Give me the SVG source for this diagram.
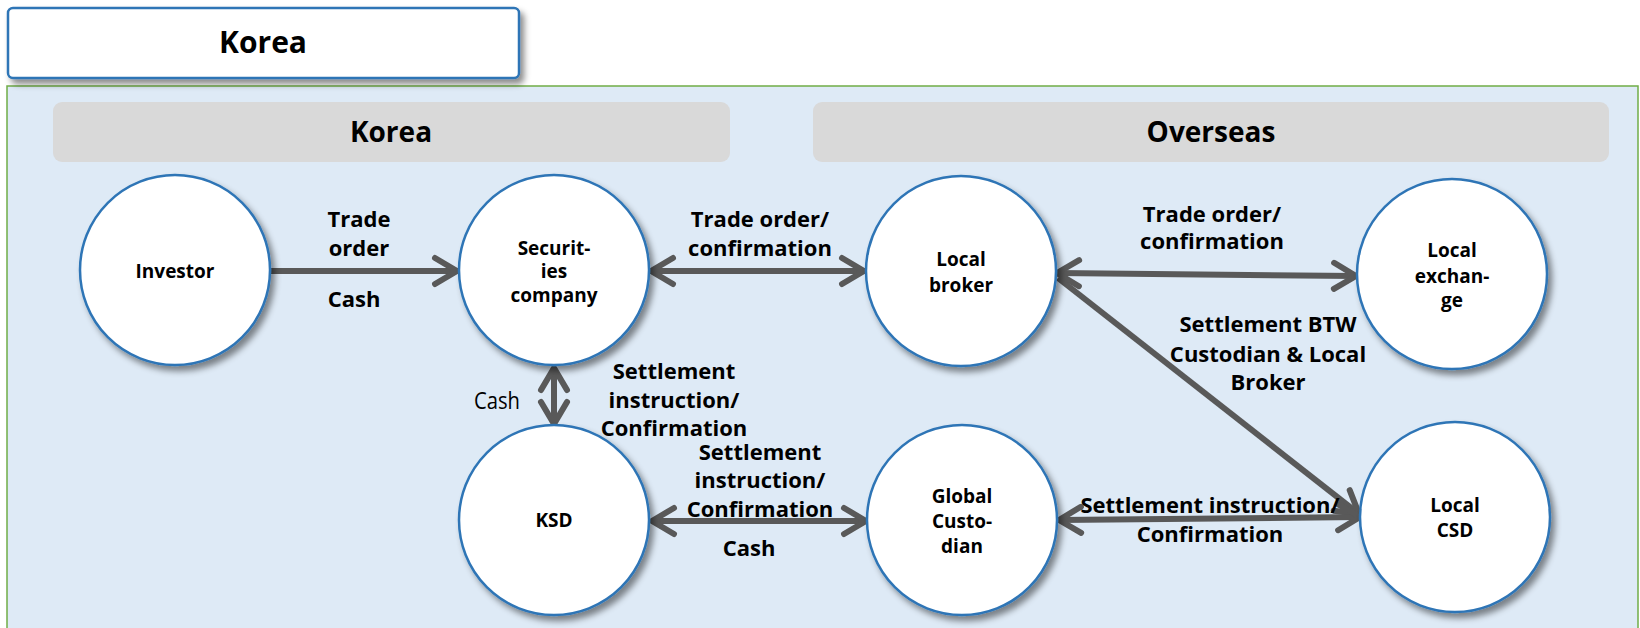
<svg xmlns="http://www.w3.org/2000/svg" width="1640" height="628" viewBox="0 0 1640 628">
<style>
.node{fill:#FFFFFF;stroke:#2E75B6;stroke-width:2.5;filter:url(#sh)}
.nl{font-family:"Open Sans","Liberation Sans",sans-serif;font-weight:700;font-size:19px;fill:#000;text-anchor:middle}
.el{font-family:"Open Sans","Liberation Sans",sans-serif;font-weight:700;font-size:22px;fill:#000;text-anchor:middle}
.hd{font-family:"Open Sans","Liberation Sans",sans-serif;font-weight:700;font-size:28px;fill:#000;text-anchor:middle}
.cn{stroke:#595959;stroke-width:6;fill:none}
</style>
<defs>
<filter id="sh" x="-20%" y="-20%" width="150%" height="150%">
<feDropShadow dx="4" dy="5" stdDeviation="3" flood-color="#000" flood-opacity="0.45"/>
</filter>
<marker id="arr" markerUnits="userSpaceOnUse" orient="auto-start-reverse" refX="0" refY="0" markerWidth="40" markerHeight="40" viewBox="-30 -20 40 40" overflow="visible">
<path d="M-22,-13 L0,0 L-22,13" fill="none" stroke="#595959" stroke-width="6" stroke-linecap="round" stroke-linejoin="round"/>
</marker>
</defs>
<rect x="0" y="0" width="1640" height="628" fill="#FFFFFF"/>
<g id="panel">
<rect x="7" y="86" width="1631" height="560" fill="#DEEAF6" stroke="#70AD47" stroke-width="1.5"/>
</g>
<g id="title">
<rect x="8" y="8" width="511" height="70" rx="5" fill="#FFFFFF" stroke="#2E75B6" stroke-width="2.5" filter="url(#sh)"/>
<text x="263" y="53" class="hd" style="font-size:30px">Korea</text>
</g>
<g id="header-korea">
<rect x="53" y="102" width="677" height="60" rx="9" fill="#D9D9D9"/>
<text x="391" y="142" class="hd">Korea</text>
</g>
<g id="header-overseas">
<rect x="813" y="102" width="796" height="60" rx="9" fill="#D9D9D9"/>
<text x="1211" y="142" class="hd">Overseas</text>
</g>
<g id="connectors">
<line class="cn" x1="270" y1="271" x2="457" y2="271" marker-end="url(#arr)"/>
<line class="cn" x1="651" y1="271" x2="864" y2="271" marker-start="url(#arr)" marker-end="url(#arr)"/>
<line class="cn" x1="1057" y1="273" x2="1356" y2="276" marker-start="url(#arr)" marker-end="url(#arr)"/>
<line class="cn" x1="1058" y1="278" x2="1359" y2="514" marker-end="url(#arr)"/>
<line class="cn" x1="554" y1="368" x2="554" y2="424" marker-start="url(#arr)" marker-end="url(#arr)"/>
<line class="cn" x1="652" y1="521" x2="866" y2="521" marker-start="url(#arr)" marker-end="url(#arr)"/>
<line class="cn" x1="1059" y1="520" x2="1360" y2="517" marker-start="url(#arr)" marker-end="url(#arr)"/>
<text x="359" y="227" class="el">Trade</text>
<text x="359" y="256" class="el">order</text>
<text x="354" y="307" class="el">Cash</text>
<text x="760" y="227" class="el">Trade order/</text>
<text x="760" y="256" class="el">confirmation</text>
<text x="1212" y="222" class="el">Trade order/</text>
<text x="1212" y="249" class="el">confirmation</text>
<text x="1268" y="332" class="el">Settlement BTW</text>
<text x="1268" y="362" class="el">Custodian &amp; Local</text>
<text x="1268" y="390" class="el">Broker</text>
<text x="497" y="409" style="font-family:'Open Sans','Liberation Sans',sans-serif;font-size:24px;fill:#000;text-anchor:middle" textLength="46" lengthAdjust="spacingAndGlyphs">Cash</text>
<text x="674" y="379" class="el">Settlement</text>
<text x="674" y="408" class="el">instruction/</text>
<text x="674" y="436" class="el">Confirmation</text>
<text x="760" y="460" class="el">Settlement</text>
<text x="760" y="488" class="el">instruction/</text>
<text x="760" y="517" class="el">Confirmation</text>
<text x="749" y="556" class="el">Cash</text>
<text x="1210" y="513" class="el">Settlement instruction/</text>
<text x="1210" y="542" class="el">Confirmation</text>
</g>
<g id="investor">
<circle class="node" cx="175" cy="270" r="95"/>
<text x="175" y="278" class="nl">Investor</text>
</g>
<g id="securities">
<circle class="node" cx="554" cy="270" r="95"/>
<text x="554" y="255" class="nl">Securit-</text>
<text x="554" y="278" class="nl">ies</text>
<text x="554" y="302" class="nl">company</text>
</g>
<g id="local-broker">
<circle class="node" cx="961" cy="271" r="95"/>
<text x="961" y="266" class="nl">Local</text>
<text x="961" y="292" class="nl">broker</text>
</g>
<g id="local-exchange">
<circle class="node" cx="1452" cy="274" r="95"/>
<text x="1452" y="257" class="nl">Local</text>
<text x="1452" y="283" class="nl">exchan-</text>
<text x="1452" y="307" class="nl">ge</text>
</g>
<g id="ksd">
<circle class="node" cx="554" cy="520" r="95"/>
<text x="554" y="527" class="nl">KSD</text>
</g>
<g id="global-custodian">
<circle class="node" cx="962" cy="520" r="95"/>
<text x="962" y="503" class="nl">Global</text>
<text x="962" y="528" class="nl">Custo-</text>
<text x="962" y="553" class="nl">dian</text>
</g>
<g id="local-csd">
<circle class="node" cx="1455" cy="517" r="95"/>
<text x="1455" y="512" class="nl">Local</text>
<text x="1455" y="537" class="nl">CSD</text>
</g>
</svg>
